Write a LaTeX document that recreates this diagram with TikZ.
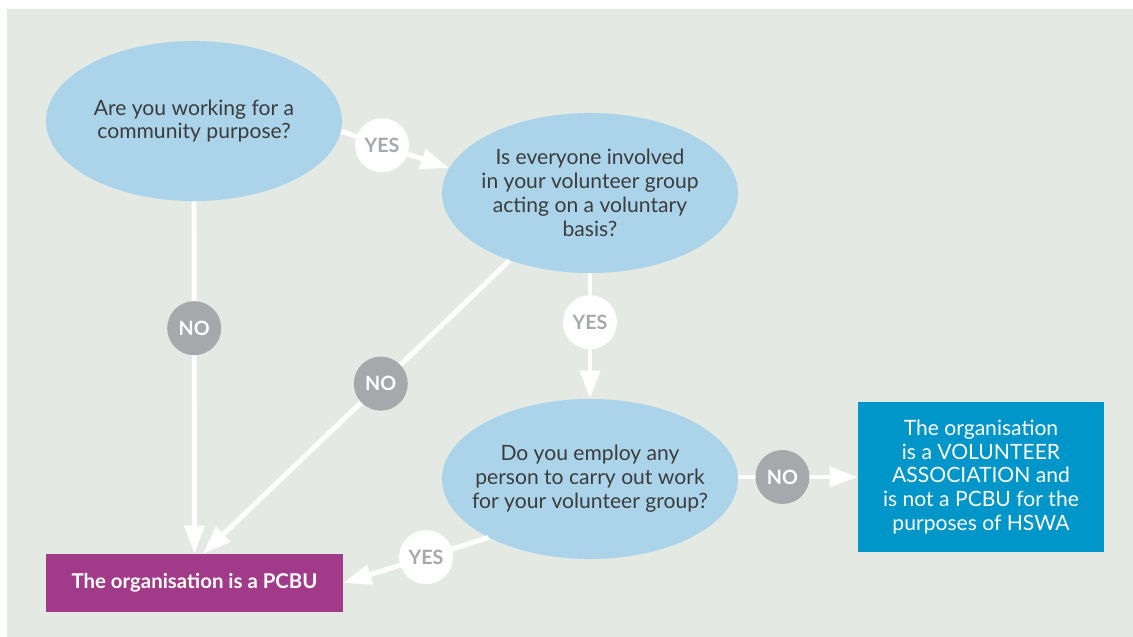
\documentclass[tikz,border=0pt]{standalone}
\usepackage{fontspec}
\setmainfont{Lato}
\usepackage{tikz}
\usetikzlibrary{shapes.geometric}
\usetikzlibrary{arrows.meta}

\definecolor{panelgrey}{HTML}{E5E9E4}
\definecolor{askblue}{HTML}{ABD4EA}
\definecolor{inkgrey}{HTML}{3C3C3C}
\definecolor{badgegrey}{HTML}{A6A8AB}
\definecolor{pcbupurple}{HTML}{A23A8A}
\definecolor{assocblue}{HTML}{0096C9}

\begin{document}
\begin{tikzpicture}[x=0.025cm, y=-0.025cm,
    question/.style={ellipse, fill=askblue, minimum width=7.4cm, minimum height=4cm,
        inner xsep=-20pt, inner ysep=0pt, align=center, text=inkgrey, font=\fontsize{15}{17}\selectfont},
    flow/.style={draw=white, line width=3.5pt, -{Triangle[length=20pt,width=14pt]}},
    yesbadge/.style={circle, fill=white, minimum size=1.35cm, inner sep=0pt,
        text=badgegrey, font=\fontsize{14}{14}\selectfont\bfseries},
    nobadge/.style={circle, fill=badgegrey, minimum size=1.35cm, inner sep=0pt,
        text=white, font=\fontsize{14}{14}\selectfont\bfseries},
    outcome/.style={inner sep=0pt, align=center, text=white}
    ]
                \useasboundingbox (0,0) rectangle (1133,637);
                \fill[panelgrey] (7,9) rectangle (1133,637);

                \node[question] (purpose) at (194,121) {Are you working for a\\community purpose?};
                \node[question] (voluntary) at (590,193) {Is everyone involved\\in your volunteer group\\acting on a voluntary\\basis?};
                \node[question] (employ) at (590,479) {Do you employ any\\person to carry out work\\for your volunteer group?};

                \node[outcome, fill=pcbupurple, minimum width=7.425cm, minimum height=1.45cm,
                    font=\fontsize{14.5}{15}\selectfont\bfseries] (pcbu) at (194.5,583) {The organisation is a PCBU};
                \node[outcome, fill=assocblue, minimum width=6.15cm, minimum height=3.75cm,
                    font=\fontsize{15}{17}\selectfont] (assoc) at (981,477) {The organisation\\is a VOLUNTEER\\ASSOCIATION and\\is not a PCBU for the\\purposes of HSWA};

                \draw[flow] (purpose.-4) -- (voluntary.170) node[yesbadge, pos=0.38] (yesone) {YES};
                \draw[flow] (purpose.south) -- (pcbu.north) node[nobadge, pos=0.36] (noone) {NO};
                \draw[flow] (voluntary.-140) -- ([xshift=0.21cm]pcbu.north) node[nobadge, pos=0.42] (notwo) {NO};
                \draw[flow] (voluntary.south) -- (employ.north) node[yesbadge, pos=0.39] (yestwo) {YES};
                \draw[flow] (employ.east |- assoc.west) -- (assoc.west) node[nobadge, pos=0.37] (nothree) {NO};
                \draw[flow] (employ.210) -- (pcbu.east) node[yesbadge, pos=0.43] (yesthree) {YES};
\end{tikzpicture}
\end{document}
